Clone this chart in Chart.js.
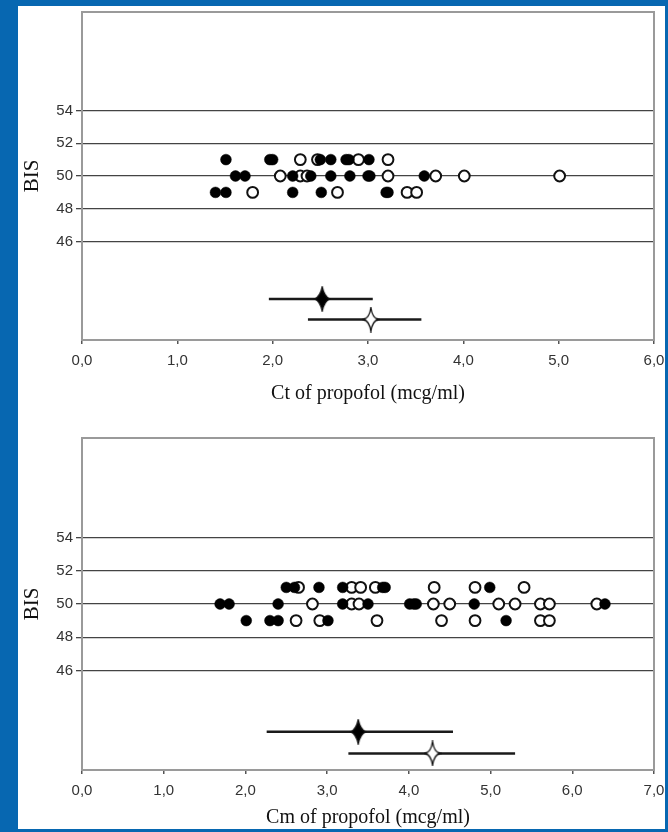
<!DOCTYPE html>
<html>
<head>
<meta charset="utf-8">
<script src="https://cdn.jsdelivr.net/npm/chart.js@4.4.1/dist/chart.umd.min.js"></script>
<style>
  body { margin: 0; background: #0767b1; width: 668px; height: 832px; overflow: hidden; position: relative; }
  #panel { position: absolute; left: 18px; top: 6px; width: 647px; height: 823px; background: #fff; }
  canvas { position: absolute; left: 0; }
  #ctChart { top: 0; }
  #cmChart { top: 420px; }
</style>
</head>
<body>
<div id="panel"></div>
<canvas id="ctChart" width="668" height="420"></canvas>
<canvas id="cmChart" width="668" height="412"></canvas>
<script>
// BIS levels on the y axis
const yTicks = [46, 48, 50, 52, 54];

// top chart: Ct of propofol, points by BIS row
const ctTicks = ["0,0", "1,0", "2,0", "3,0", "4,0", "5,0", "6,0"];
const ctFilled51 = [1.51, 1.97, 2.00, 2.50, 2.61, 2.77, 2.80, 3.01];
const ctOpen51 = [2.29, 2.47, 2.90, 3.21];
const ctFilled50 = [1.61, 1.71, 2.21, 2.40, 2.61, 2.81, 3.00, 3.02, 3.59];
const ctOpen50 = [2.08, 2.29, 2.36, 3.21, 3.71, 4.01, 5.01];
const ctFilled49 = [1.40, 1.51, 2.21, 2.51, 3.19, 3.21];
const ctOpen49 = [1.79, 2.68, 3.41, 3.51];
// mean and range (filled group, open group)
const ctMean = [2.52, 3.03];
const ctLow = [1.96, 2.37];
const ctHigh = [3.05, 3.56];
const ctMeanY = [42.5, 41.25];

// bottom chart: Cm of propofol
const cmTicks = ["0,0", "1,0", "2,0", "3,0", "4,0", "5,0", "6,0", "7,0"];
const cmFilled51 = [2.50, 2.60, 2.90, 3.19, 3.68, 3.71, 4.99];
const cmOpen51 = [2.65, 3.30, 3.41, 3.59, 4.31, 4.81, 5.41];
const cmFilled50 = [1.69, 1.80, 2.40, 3.19, 3.50, 4.01, 4.06, 4.09, 4.80, 6.40];
const cmOpen50 = [2.82, 3.30, 3.39, 4.30, 4.50, 5.10, 5.30, 5.61, 5.72, 6.30];
const cmFilled49 = [2.01, 2.30, 2.40, 3.01, 5.19];
const cmOpen49 = [2.62, 2.91, 3.61, 4.40, 4.81, 5.61, 5.72];
const cmMean = [3.38, 4.29];
const cmLow = [2.26, 3.26];
const cmHigh = [4.54, 5.30];
const cmMeanY = [42.3, 41.0];

function starCanvas(fill, bulge) {
  const c = document.createElement("canvas");
  c.width = 18; c.height = 26;
  const g = c.getContext("2d");
  const cx = 9, cy = 13;
  g.beginPath();
  g.moveTo(cx, 1);
  g.quadraticCurveTo(cx + bulge, cy - bulge, cx + 7.5, cy);
  g.quadraticCurveTo(cx + bulge, cy + bulge, cx, 25);
  g.quadraticCurveTo(cx - bulge, cy + bulge, cx - 7.5, cy);
  g.quadraticCurveTo(cx - bulge, cy - bulge, cx, 1);
  g.closePath();
  g.fillStyle = fill;
  g.fill();
  g.lineWidth = 1.3;
  g.strokeStyle = "#111";
  g.stroke();
  return c;
}

const pts = (xs, y) => xs.map(x => ({ x: x, y: y }));

const framePlugin = {
  id: "frame",
  beforeDatasetsDraw(chart) {
    const a = chart.chartArea;
    const ctx = chart.ctx;
    ctx.save();
    ctx.strokeStyle = "#9a9a9a";
    ctx.lineWidth = 2;
    ctx.strokeRect(a.left, a.top, a.right - a.left, a.bottom - a.top);
    ctx.restore();
  }
};

function makeChart(id, cfg) {
  const filled = { backgroundColor: "#000", borderColor: "#000", borderWidth: 0.5, pointRadius: 5.4 };
  const open = { backgroundColor: "#fff", borderColor: "#111", borderWidth: 2, pointRadius: 5.4 };
  const bar = { showLine: true, pointRadius: 0, borderColor: "#1a1a1a", borderWidth: 2.5 };

  const datasets = [
    { data: [{ x: cfg.mean[0], y: cfg.meanY[0] }], pointStyle: starCanvas("#000", 2.2) },
    { data: [{ x: cfg.mean[1], y: cfg.meanY[1] }], pointStyle: starCanvas("#fff", 1.4) },
    Object.assign({ data: [{ x: cfg.low[0], y: cfg.meanY[0] }, { x: cfg.high[0], y: cfg.meanY[0] }] }, bar),
    Object.assign({ data: [{ x: cfg.low[1], y: cfg.meanY[1] }, { x: cfg.high[1], y: cfg.meanY[1] }] }, bar),
    Object.assign({ data: pts(cfg.f51, 51).concat(pts(cfg.f50, 50), pts(cfg.f49, 49)) }, filled),
    Object.assign({ data: pts(cfg.o51, 51).concat(pts(cfg.o50, 50), pts(cfg.o49, 49)) }, open)
  ];

  return new Chart(document.getElementById(id), {
    type: "scatter",
    data: { datasets: datasets },
    plugins: [framePlugin],
    options: {
      responsive: false,
      animation: false,
      devicePixelRatio: 1,
      layout: { padding: { top: cfg.padTop, right: 14, left: 0, bottom: 0 } },
      plugins: { legend: { display: false }, tooltip: { enabled: false } },
      scales: {
        x: {
          type: "linear",
          min: 0,
          max: cfg.ticks.length - 1,
          afterFit: (s) => { s.height = cfg.xHeight; s.paddingRight = 0; s.paddingLeft = 0; },
          ticks: {
            stepSize: 1,
            padding: 8,
            color: "#333",
            font: { family: "Liberation Sans, Arial", size: 15 },
            callback: (v, i) => cfg.ticks[i]
          },
          grid: { drawOnChartArea: false, drawTicks: true, tickLength: 4, color: "#555", lineWidth: 1.5 },
          border: { display: false },
          title: {
            display: true,
            text: cfg.title,
            color: "#111",
            font: { family: "Liberation Serif, Times New Roman", size: 20 },
            padding: { top: 0, bottom: cfg.titlePad }
          }
        },
        y: {
          type: "linear",
          min: 40,
          max: 60,
          afterFit: (s) => { s.width = 82; },
          afterBuildTicks: (s) => { s.ticks = yTicks.map(v => ({ value: v })); },
          ticks: {
            padding: 3,
            color: "#333",
            font: { family: "Liberation Sans, Arial", size: 15 }
          },
          grid: { color: "#444", lineWidth: 1.3, tickLength: 6 },
          border: { display: false },
          title: {
            display: true,
            text: "BIS",
            color: "#111",
            font: { family: "Liberation Serif, Times New Roman", size: 21 },
            padding: { top: 20, bottom: 0 }
          }
        }
      }
    }
  });
}

makeChart("ctChart", {
  ticks: ctTicks, title: "Ct of propofol (mcg/ml)",
  f51: ctFilled51, o51: ctOpen51, f50: ctFilled50, o50: ctOpen50, f49: ctFilled49, o49: ctOpen49,
  mean: ctMean, low: ctLow, high: ctHigh, meanY: ctMeanY,
  padTop: 7, xHeight: 80, titlePad: 14
});

makeChart("cmChart", {
  ticks: cmTicks, title: "Cm of propofol (mcg/ml)",
  f51: cmFilled51, o51: cmOpen51, f50: cmFilled50, o50: cmOpen50, f49: cmFilled49, o49: cmOpen49,
  mean: cmMean, low: cmLow, high: cmHigh, meanY: cmMeanY,
  padTop: 18, xHeight: 62, titlePad: 2
});
</script>
</body>
</html>
